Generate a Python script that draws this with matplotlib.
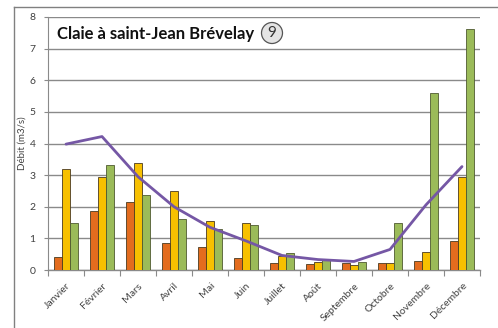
import matplotlib
matplotlib.use("Agg")
import matplotlib.pyplot as plt
from matplotlib.lines import Line2D
from matplotlib.patches import Ellipse
import numpy as np

plt.rcParams['font.family'] = ['Lato', 'DejaVu Sans']

months = ["Janvier", "Février", "Mars", "Avril", "Mai", "Juin", "Juillet",
          "Août", "Septembre", "Octobre", "Novembre", "Décembre"]
serie_orange = [0.42, 1.87, 2.14, 0.86, 0.72, 0.37, 0.23, 0.18, 0.23, 0.23, 0.27, 0.92]
serie_jaune = [3.19, 2.93, 3.38, 2.49, 1.54, 1.48, 0.44, 0.24, 0.17, 0.21, 0.57, 2.93]
serie_verte = [1.48, 3.31, 2.36, 1.61, 1.29, 1.43, 0.53, 0.34, 0.25, 1.48, 5.59, 7.62]
moyenne = [3.98, 4.22, 2.95, 2.0, 1.35, 0.92, 0.46, 0.33, 0.27, 0.65, 2.06, 3.27]
title = "Claie à saint-Jean Brévelay"
badge = "9"

W, H = 498, 328
fig = plt.figure(figsize=(W / 100, H / 100), dpi=100)
ax = fig.add_axes([48 / W, 1 - 270 / H, (480 - 48) / W, (270 - 17) / H])

x = np.arange(len(months))
bw = 0.22
edge = "#4a3a20"
ax.bar(x - bw, serie_orange, bw, color="#e36c1e", edgecolor=edge, linewidth=0.6, zorder=3)
ax.bar(x, serie_jaune, bw, color="#f7c000", edgecolor=edge, linewidth=0.6, zorder=3)
ax.bar(x + bw, serie_verte, bw, color="#9bbb59", edgecolor="#4f5a30", linewidth=0.6, zorder=3)
ax.plot(x, moyenne, color="#7557a5", linewidth=2.0, zorder=4, solid_capstyle="round")

ax.set_xlim(-0.5, len(months) - 0.5)
ax.set_ylim(0, 8)
ax.set_yticks(range(0, 9))
ax.yaxis.grid(True, color="#8a8a8a", linewidth=1.0, zorder=0)
ax.tick_params(axis="y", labelsize=7.5, colors="#8a8a8a", labelcolor="#404040",
               length=3, width=0.8, pad=6)

# category boundary ticks on the x axis
ax.set_xticks(np.arange(-0.5, len(months) + 0.5, 1.0))
ax.set_xticklabels([])
ax.tick_params(axis="x", length=4, width=0.8, colors="#8a8a8a")
ax.set_xticks(x, minor=True)
ax.set_xticklabels(months, minor=True, rotation=45, ha="right",
                   rotation_mode="anchor", fontsize=7.5, color="#404040")
ax.tick_params(axis="x", which="minor", length=0, pad=8)

for s in ["top", "right"]:
    ax.spines[s].set_visible(False)
ax.spines["left"].set_color("#8a8a8a")
ax.spines["bottom"].set_color("#8a8a8a")
ax.spines["left"].set_linewidth(0.8)
ax.spines["bottom"].set_linewidth(1.0)

ax.set_ylabel("Débit (m3/s)", fontsize=7, color="#404040", labelpad=2)

fig.text(57 / W, 1 - 34 / H, title, fontsize=12,
         fontweight="bold", color="#111111", va="center", ha="left", zorder=6)
circ = Ellipse((272 / W, 1 - 33 / H), 21 / W, 21 / H, transform=fig.transFigure,
               facecolor="#e4e4e4", edgecolor="#555555", linewidth=0.9, zorder=6)
fig.add_artist(circ)
fig.text(272 / W, 1 - 33 / H, badge, fontsize=11, color="#333333",
         ha="center", va="center", zorder=7)

# outer frame
fig.add_artist(Line2D([14 / W, 14 / W], [0, 1 - 7 / H], transform=fig.transFigure,
                      color="#808080", linewidth=1.0))
fig.add_artist(Line2D([14 / W, 1], [1 - 7 / H, 1 - 7 / H], transform=fig.transFigure,
                      color="#808080", linewidth=1.0))

fig.savefig("out.png", dpi=100, facecolor="white")
